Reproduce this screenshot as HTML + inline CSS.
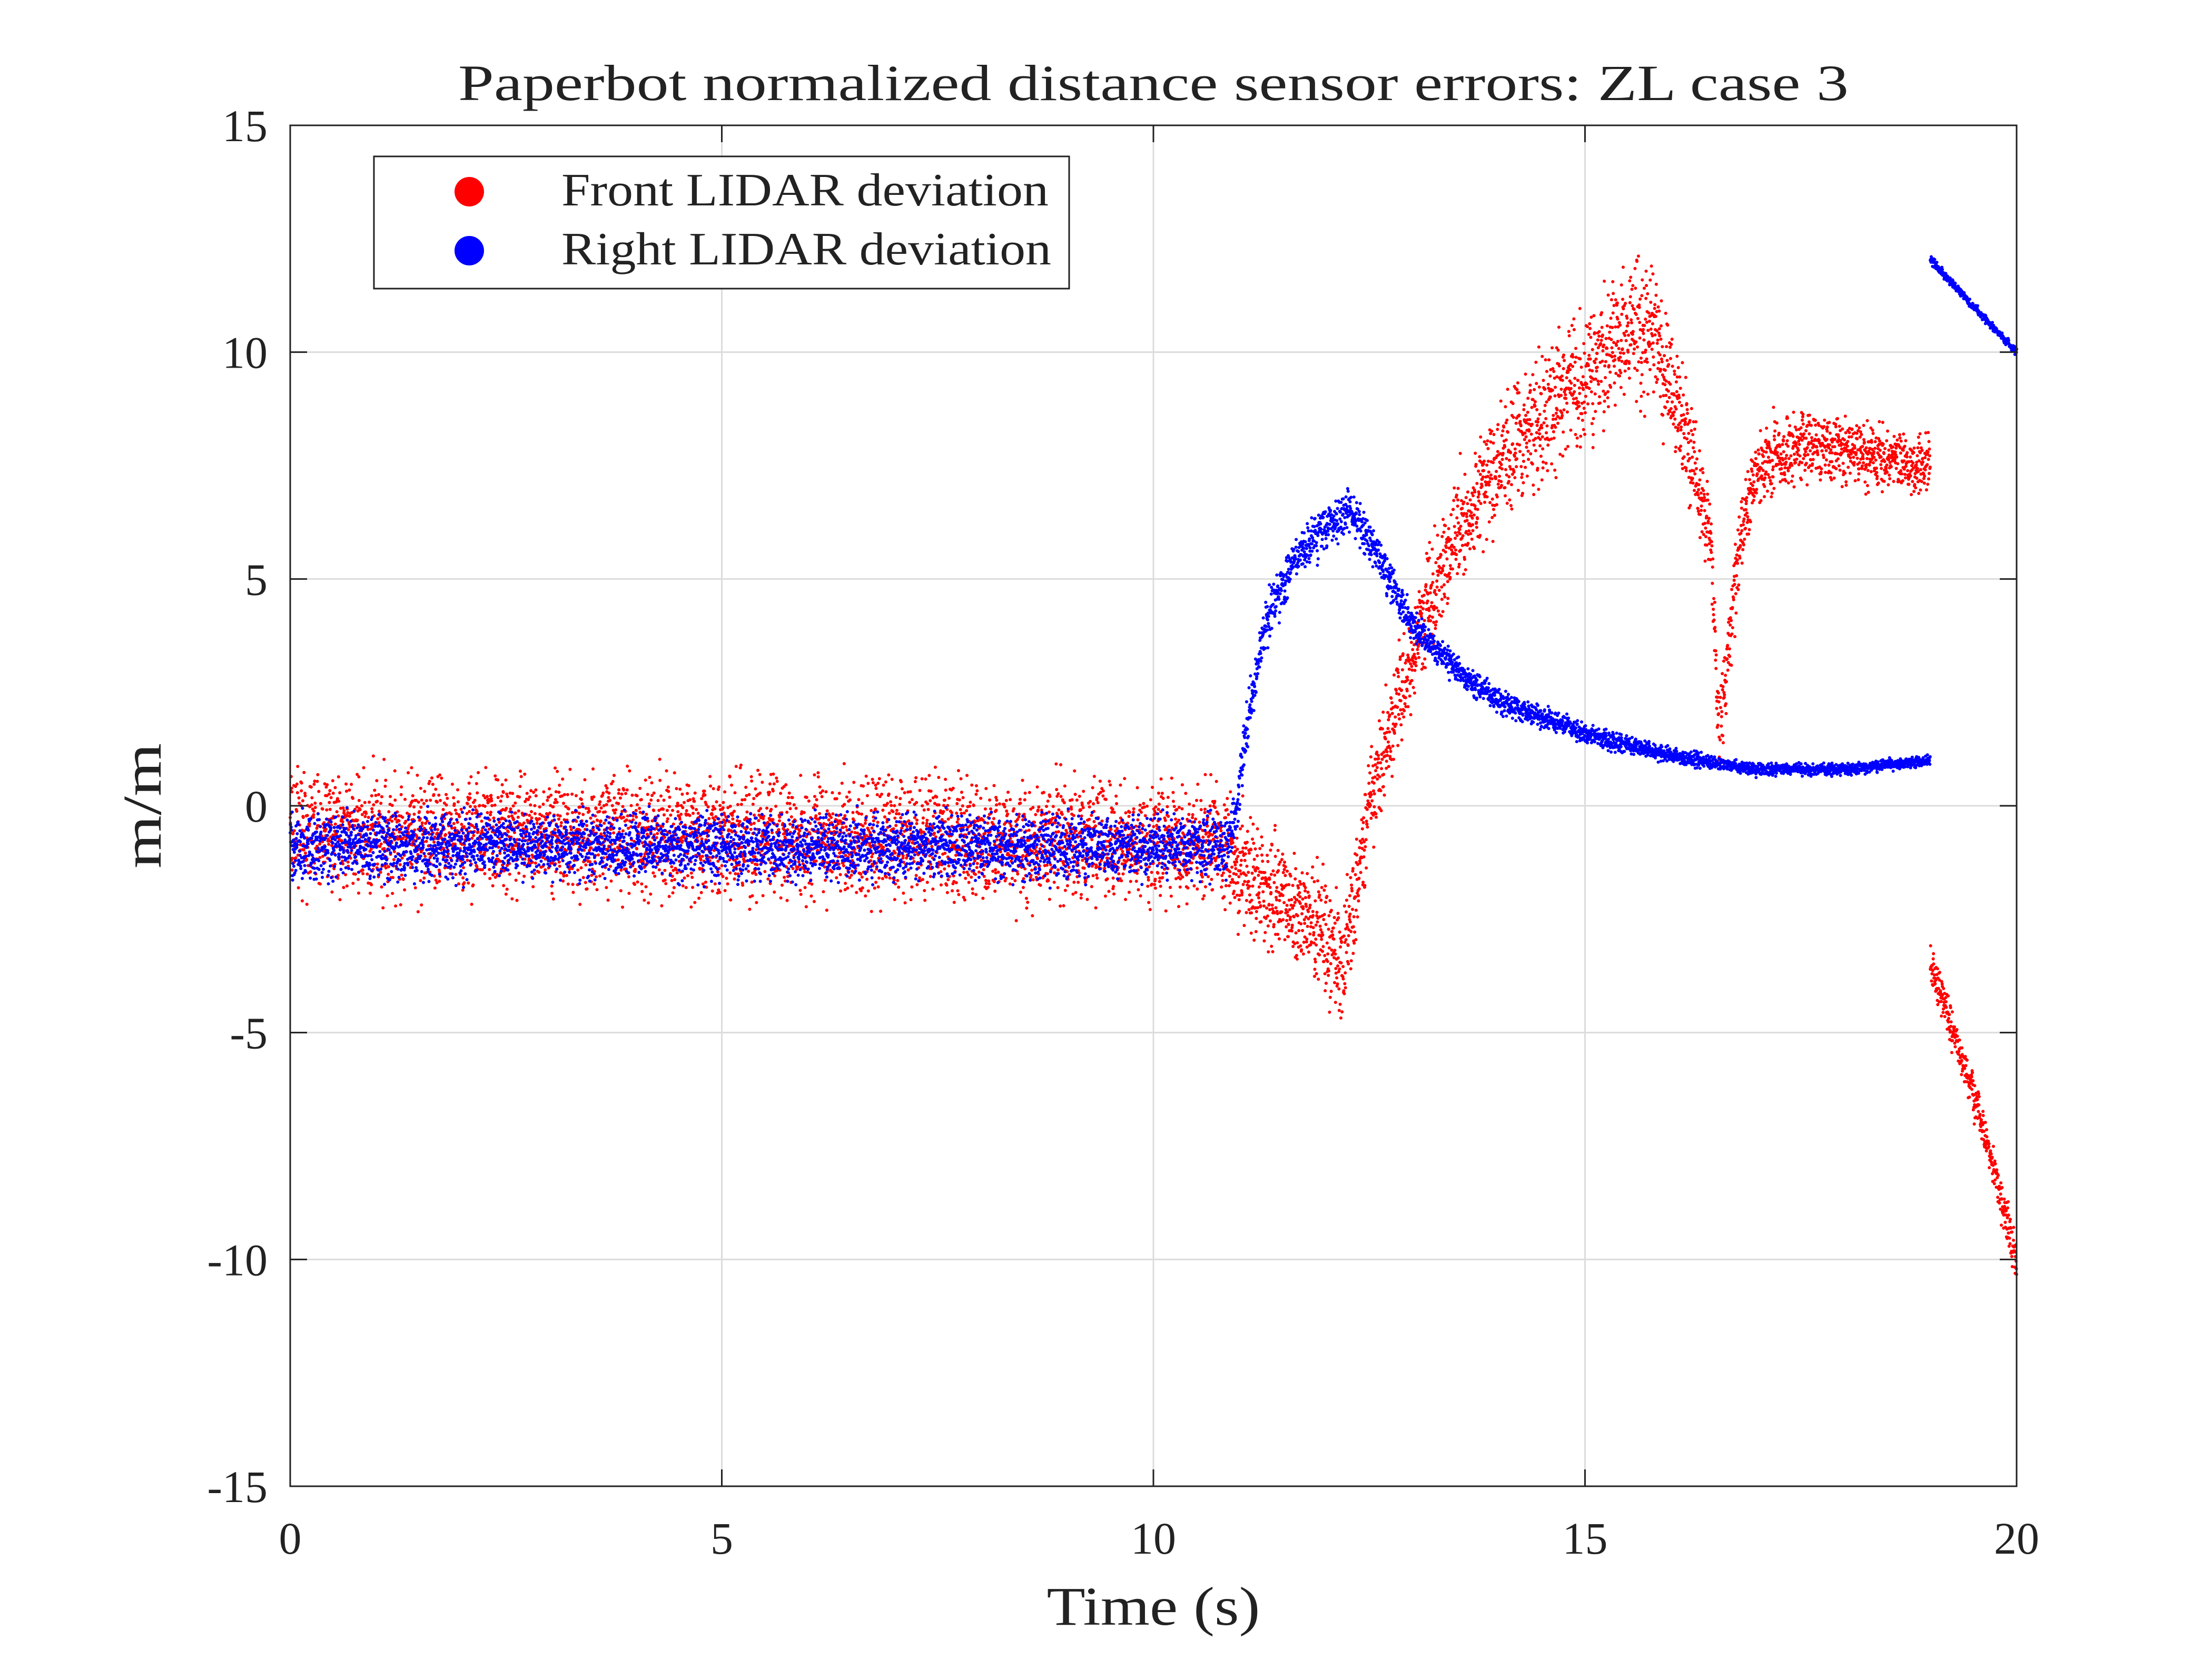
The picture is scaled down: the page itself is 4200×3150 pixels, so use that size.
<!DOCTYPE html>
<html><head><meta charset="utf-8"><style>
html,body{margin:0;padding:0;background:#fff;}
svg{display:block;font-family:"Liberation Serif",serif;}
</style></head><body>
<svg id="chart" width="4200" height="3150" viewBox="0 0 4200 3150" xmlns="http://www.w3.org/2000/svg">
<rect width="4200" height="3150" fill="#fff"/>
<text x="2190" y="190" font-size="96" text-anchor="middle" textLength="2640" lengthAdjust="spacingAndGlyphs" fill="#222">Paperbot normalized distance sensor errors: ZL case 3</text>
<g id="grid"></g>
<g id="points"></g>
<rect x="551" y="238" width="3278" height="2584" fill="none" stroke="#222" stroke-width="3"/>
<g id="ticks"></g>
<text x="2190" y="3085" font-size="104" text-anchor="middle" textLength="405" lengthAdjust="spacingAndGlyphs" fill="#222">Time (s)</text>
<text transform="translate(305,1530) rotate(-90)" font-size="104" text-anchor="middle" textLength="238" lengthAdjust="spacingAndGlyphs" fill="#222">m/m</text>
<g>
<rect x="710" y="297" width="1320" height="251" fill="#fff" stroke="#222" stroke-width="3"/>
<circle cx="891" cy="364" r="28" fill="#ff0000"/>
<text x="1066" y="390" font-size="88" textLength="925" lengthAdjust="spacingAndGlyphs" fill="#222">Front LIDAR deviation</text>
<circle cx="891" cy="476" r="28" fill="#0000ff"/>
<text x="1066" y="502" font-size="88" textLength="930" lengthAdjust="spacingAndGlyphs" fill="#222">Right LIDAR deviation</text>
</g>
</svg>
<script>
const xTicks=[0,5,10,15,20];
const yTicks=[-15,-10,-5,0,5,10,15];
// Front LIDAR trend: times, means, spreads
const frontT=[0,10.8,11,11.5,12,12.2,12.5,12.8,13.2,13.5,14,14.5,15,15.5,15.8,16.2,16.45,16.55,16.8,17,17.5,18,19];
const frontM=[-0.6,-0.8,-1.5,-2,-2.8,-3.5,0,2,4.5,6,7.5,8.5,9.5,10.5,10.5,8,6,1.5,6,7.5,8,7.8,7.5];
const frontS=[1.5,1.5,1.5,1.5,1.6,1.6,1.2,1.2,1.3,1.4,1.5,1.6,1.6,1.7,1.7,1.4,1.2,1.0,1.0,1.0,0.9,0.8,0.8];
const front2T=[19,19.3,19.6,20];
const front2M=[-3.5,-5.2,-7,-10];
const front2S=[0.5,0.5,0.5,0.5];
// Right LIDAR trend
const rightT=[0,10.85,10.95,11.1,11.3,11.6,12,12.3,12.6,13,13.5,14,15,16,17,18,19];
const rightM=[-0.9,-0.9,-0.3,2,4,5.3,6.2,6.5,5.5,4,3,2.3,1.6,1.1,0.8,0.8,1.0];
const rightS=[0.8,0.8,0.7,0.6,0.6,0.6,0.6,0.6,0.5,0.4,0.35,0.3,0.25,0.2,0.15,0.15,0.12];
const right2T=[19,19.5,20];
const right2M=[12.05,11,10];
const right2S=[0.1,0.1,0.1];

const L=551,R=3829,T=238,B=2822;
const xs=v=>L+(v-0)/(20-0)*(R-L);
const ys=v=>B-(v+15)/30*(B-T);
const NS="http://www.w3.org/2000/svg";
const grid=document.getElementById('grid'),ticks=document.getElementById('ticks'),pts=document.getElementById('points');
function mk(tag,attrs,parent){const e=document.createElementNS(NS,tag);for(const k in attrs)e.setAttribute(k,attrs[k]);parent.appendChild(e);return e;}
xTicks.forEach(v=>{
  const x=xs(v);
  if(v>0&&v<20){const g=mk('line',{x1:x,x2:x,y1:T,y2:B,stroke:'#dcdcdc','stroke-width':3},grid);
    }
  const t1=mk('line',{x1:x,x2:x,y1:B,y2:B-32,stroke:'#222','stroke-width':3},ticks);
  
  const t2=mk('line',{x1:x,x2:x,y1:T,y2:T+32,stroke:'#222','stroke-width':3},ticks);
  
  const lb=mk('text',{x:x,y:2950,'font-size':86,'text-anchor':'middle',fill:'#222'},ticks);lb.textContent=v;
  
});
yTicks.forEach(v=>{
  const y=ys(v);
  if(v>-15&&v<15){const g=mk('line',{x1:L,x2:R,y1:y,y2:y,stroke:'#dcdcdc','stroke-width':3},grid);
    }
  const t1=mk('line',{x1:L,x2:L+32,y1:y,y2:y,stroke:'#222','stroke-width':3},ticks);
  
  const t2=mk('line',{x1:R,x2:R-32,y1:y,y2:y,stroke:'#222','stroke-width':3},ticks);
  
  const lb=mk('text',{x:508,y:y+30,'font-size':86,'text-anchor':'end',fill:'#222'},ticks);lb.textContent=v;
  
});
let seed=12345;
function rnd(){seed|=0;seed=seed+0x6D2B79F5|0;let t=Math.imul(seed^seed>>>15,1|seed);t=t+Math.imul(t^t>>>7,61|t)^t;return((t^t>>>14)>>>0)/4294967296;}
function gauss(){return (rnd()+rnd()+rnd()-1.5)*1.4;}
function interp(tArr,vArr,t){for(let i=0;i<tArr.length-1;i++){if(t<=tArr[i+1]){const f=(t-tArr[i])/(tArr[i+1]-tArr[i]);return vArr[i]+f*(vArr[i+1]-vArr[i]);}}return vArr[vArr.length-1];}
function series(tArr,mArr,sArr,color,name,dt){
  let d='';
  for(let t=tArr[0];t<=tArr[tArr.length-1];t+=dt){
    const m=interp(tArr,mArr,t),s=interp(tArr,sArr,t);
    const v=m+gauss()*s*0.6;
    const x=xs(t),y=ys(v);
    d+='M'+x.toFixed(1)+' '+y.toFixed(1)+'h0.1';
  }
  const p=mk('path',{d:d,stroke:color,'stroke-width':6,'stroke-linecap':'round',fill:'none'},pts);
  
  
}
series(frontT,frontM,frontS,'#ff0000','front-lidar-points',0.0028);
series(rightT,rightM,rightS,'#0000ff','right-lidar-points',0.0028);
series(front2T,front2M,front2S,'#ff0000','front-lidar-points-end',0.0028);
series(right2T,right2M,right2S,'#0000ff','right-lidar-points-end',0.0028);
</script>
</body></html>
